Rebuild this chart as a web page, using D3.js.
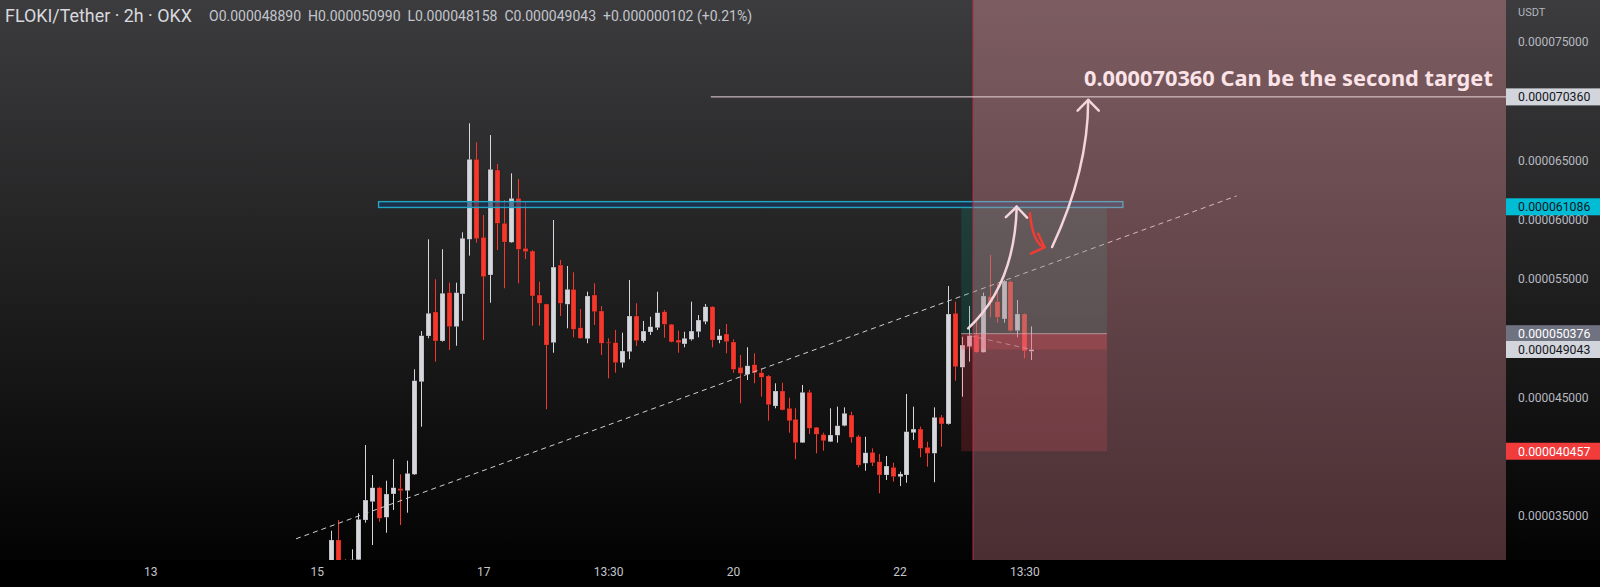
<!DOCTYPE html>
<html><head><meta charset="utf-8">
<script src="https://cdn.jsdelivr.net/npm/d3@7"></script>
<style>html,body{margin:0;padding:0;background:#000;overflow:hidden}</style>
</head><body><svg id="c" width="1600" height="587"></svg>
<script>
// ---- DATA (prices in units of 1e-9 USDT; candle index k = 2h bars) ----
const openP  = [31000,32970,31100,30900,31300,34650,36200,37380,34880,36850,37300,37130,38510,46320,50180,52210,49760,53840,50970,53730,58340,65090,58510,55330,64190,59690,58090,61800,57580,57350,53640,52880,49620,56170,52860,54120,50880,49950,53640,52290,49650,49620,47930,48860,51870,49760,50520,50880,52230,51170,49840,49510,49900,50540,51390,52650,49840,50350,49680,47540,46950,47760,47080,46810,44270,45540,44080,43150,41180,45430,42480,41860,41260,41800,42610,43510,41700,39440,40360,39570,38450,39100,38310,38450,42020,42330,40790,40280,43320,42760,52100,47540,49280,50270,48810,53500,53080,51620,54770,50630,52040,48890];
const highP  = [33750,34650,31350,32180,35220,40980,38450,37460,37970,39780,38510,39660,47370,50600,58340,54970,57500,54680,54680,58930,68130,66530,60390,67140,64700,61660,63910,63430,61510,57440,54760,52900,59970,56600,56090,55560,52460,53920,54630,52710,49990,50690,50460,54910,52940,51450,51810,53920,52380,51200,50630,50540,53080,51950,52880,52700,50750,51190,49900,48580,49230,48720,47460,46890,46190,46240,44970,44080,46050,45630,42500,42020,44080,44220,44160,43790,41830,41680,40700,40220,40060,39490,38730,45290,44220,42530,41260,44160,43510,54400,53080,50120,52710,51390,53840,57020,54630,54910,54850,53220,52100,50990];
const lowP   = [30500,30700,30600,30500,31000,34430,32540,34510,33580,35500,34230,35270,38450,42530,49990,48010,49700,49000,49360,51470,56960,58060,49840,52990,57440,54210,58050,54630,56680,51050,51050,44000,48770,51870,50830,50070,49950,49570,51110,48580,46610,47080,47510,48220,49340,49620,50270,50690,50040,49640,48770,49230,49790,50070,51170,49230,49570,48720,47080,44500,46470,46190,45060,43030,44080,43900,42020,39780,41150,41910,40280,40500,41230,41180,42560,41180,39100,38810,39210,36910,38030,37890,37520,37800,41410,39950,39150,37840,40840,42700,46410,45060,48010,48780,48780,51760,51300,51300,50540,50070,48300,48158];
const closeP = [32970,31100,30900,31300,34710,36340,37380,34800,36850,37380,37130,38590,46410,50210,52100,49760,53790,50970,53840,58430,65090,58390,55190,64250,59690,58110,61800,57500,57300,53560,52940,49420,56000,52940,54120,50750,49990,53560,52230,49570,49570,47930,48920,51870,49790,50600,50970,52150,51170,49680,49620,49990,50600,51530,52650,49840,50210,49700,47370,47030,47670,47080,46700,44380,45540,43940,43030,41180,45430,42390,41890,41340,41830,42610,43660,41630,39290,40330,39480,38450,39210,38310,38540,42110,42330,40700,40280,43320,42760,52040,47590,49420,50210,48810,53560,53030,51760,54820,50630,52040,48920,49043];

const xTickIndex  = [-26, -2, 22, 40, 58, 82, 100];
const xTickLabels = ["13", "15", "17", "13:30", "20", "22", "13:30"];
const yTickValues = [35000, 40000, 45000, 50000, 55000, 60000, 65000, 70000, 75000];

const markValues = [70360, 61086, 50376, 49043, 40457];   // price-axis labels
const markKinds  = ["target2", "target", "entry", "last", "stop"];

const resistanceZone  = [61030, 61520];   // price range
const resistanceSpan  = [6.9, 114.2];     // bar index range
const trendLine       = [[-5, 33067], [130.6, 62004]];
const secondTarget    = 70360;
const secondTargetFrom = 54.8;
const longPos  = {from: 90.9, to: 111.9, target: 61086, entry: 50376, stop: 40457, current: 49043};
const entryDash = [[92.2, 50200], [101, 49043]];
const highlightFrom = 92.6;               // shaded period start (bar index)
const arrowUp1 = [[91.9, 50830], [98.6, 54485], [98.9, 61086]];
const arrowDown = [[100.8, 60536], [101.2, 58030], [102.9, 57666]];
const arrowUp2 = [[104.0, 57692], [109.2, 64190], [109.2, 70100]];

const titleText = "FLOKI/Tether · 2h · OKX";
const ohlcText = "O0.000048890  H0.000050990  L0.000048158  C0.000049043  +0.000000102 (+0.21%)";
const noteText = "0.000070360 Can be the second target";

// ---- LAYOUT ----
const W = 1600, H = 587, plotR = 1506, plotB = 560;
const svg = d3.select("#c");
const x = d3.scaleLinear().domain([0, 101]).range([330.7, 1031.3]);
const y = d3.scaleLinear().domain([35000, 75000]).range([515.9, 41.9]);
const fmt = v => (v * 1e-9).toFixed(9);

const defs = svg.append("defs");
const bg = defs.append("linearGradient").attr("id","bg").attr("gradientUnits","userSpaceOnUse")
  .attr("x1",0).attr("y1",0).attr("x2",0).attr("y2",plotB);
bg.append("stop").attr("offset",0).attr("stop-color","#3c3c3e");
bg.append("stop").attr("offset",1).attr("stop-color","#030303");
const pk = defs.append("linearGradient").attr("id","pk").attr("gradientUnits","userSpaceOnUse")
  .attr("x1",0).attr("y1",0).attr("x2",0).attr("y2",plotB);
pk.append("stop").attr("offset",0).attr("stop-color","rgb(238,150,160)").attr("stop-opacity",0.36);
pk.append("stop").attr("offset",1).attr("stop-color","rgb(205,126,138)").attr("stop-opacity",0.35);
defs.append("clipPath").attr("id","clip").append("rect").attr("x",0).attr("y",0).attr("width",plotR).attr("height",plotB);

svg.append("rect").attr("width",W).attr("height",H).attr("fill","#000");
svg.append("rect").attr("width",W).attr("height",plotB).attr("fill","url(#bg)");

const plot = svg.append("g").attr("clip-path","url(#clip)");

// candles
const idx = d3.range(openP.length);
const up = i => closeP[i] >= openP[i];
const upC = "#d6d7dd", dnC = "#f5372c";
plot.append("g").selectAll("line").data(idx).join("line")
  .attr("x1", i => Math.round(x(i)) + 0.5).attr("x2", i => Math.round(x(i)) + 0.5)
  .attr("y1", i => y(highP[i])).attr("y2", i => y(lowP[i]))
  .attr("stroke", i => up(i) ? upC : dnC).attr("stroke-width", 1);
plot.append("g").selectAll("rect").data(idx).join("rect")
  .attr("x", i => Math.round(x(i)) - 2).attr("width", 5)
  .attr("y", i => y(Math.max(openP[i], closeP[i])))
  .attr("height", i => Math.max(1, Math.abs(y(openP[i]) - y(closeP[i]))))
  .attr("fill", i => up(i) ? upC : dnC)
  .attr("stroke", "rgba(0,0,0,0.35)").attr("stroke-width", 0.6);

// resistance zone
plot.append("rect")
  .attr("x", x(resistanceSpan[0])).attr("width", x(resistanceSpan[1]) - x(resistanceSpan[0]))
  .attr("y", y(resistanceZone[1])).attr("height", y(resistanceZone[0]) - y(resistanceZone[1]))
  .attr("fill", "rgba(20,55,100,0.6)").attr("stroke", "#22a6c2").attr("stroke-width", 1.4);

// trend line
plot.append("line")
  .attr("x1", x(trendLine[0][0])).attr("y1", y(trendLine[0][1]))
  .attr("x2", x(trendLine[1][0])).attr("y2", y(trendLine[1][1]))
  .attr("stroke", "#cfcfd2").attr("stroke-width", 1).attr("stroke-dasharray", "5,4");

// long position
const lp = plot.append("g");
const lx0 = x(longPos.from), lx1 = x(longPos.to);
lp.append("rect").attr("x", lx0).attr("width", lx1 - lx0)
  .attr("y", y(longPos.target)).attr("height", y(longPos.entry) - y(longPos.target))
  .attr("fill", "rgba(8,153,129,0.2)");
lp.append("rect").attr("x", lx0).attr("width", lx1 - lx0)
  .attr("y", y(longPos.entry)).attr("height", y(longPos.stop) - y(longPos.entry))
  .attr("fill", "rgba(242,54,69,0.2)");
lp.append("rect").attr("x", lx0).attr("width", lx1 - lx0)
  .attr("y", y(longPos.entry)).attr("height", y(longPos.current) - y(longPos.entry))
  .attr("fill", "rgba(242,54,69,0.22)");
lp.append("line").attr("x1", lx0).attr("x2", lx1)
  .attr("y1", y(longPos.entry)).attr("y2", y(longPos.entry))
  .attr("stroke", "rgba(200,200,205,0.7)").attr("stroke-width", 1);
lp.append("line")
  .attr("x1", x(entryDash[0][0])).attr("y1", y(entryDash[0][1]))
  .attr("x2", x(entryDash[1][0])).attr("y2", y(entryDash[1][1]))
  .attr("stroke", "rgba(200,200,205,0.6)").attr("stroke-width", 1).attr("stroke-dasharray", "5,4");

// highlighted period
plot.append("rect").attr("x", x(highlightFrom)).attr("y", 0)
  .attr("width", plotR - x(highlightFrom)).attr("height", plotB).attr("fill", "url(#pk)");
plot.append("line").attr("x1", x(highlightFrom)).attr("x2", x(highlightFrom))
  .attr("y1", 0).attr("y2", plotB).attr("stroke", "#b3304a").attr("stroke-width", 1);

// second target line
plot.append("line").attr("x1", x(secondTargetFrom)).attr("x2", plotR)
  .attr("y1", y(secondTarget)).attr("y2", y(secondTarget))
  .attr("stroke", "#ead6da").attr("stroke-width", 1);

// arrows
function drawArrow(pts, color, w, head) {
  const p = pts.map(d => [x(d[0]), y(d[1])]);
  plot.append("path")
    .attr("d", `M${p[0][0]},${p[0][1]} Q${p[1][0]},${p[1][1]} ${p[2][0]},${p[2][1]}`)
    .attr("fill", "none").attr("stroke", color).attr("stroke-width", w).attr("stroke-linecap", "round");
  const ang = Math.atan2(p[2][1] - p[1][1], p[2][0] - p[1][0]);
  [Math.PI * 0.75, -Math.PI * 0.75].forEach(a => {
    plot.append("line").attr("x1", p[2][0]).attr("y1", p[2][1])
      .attr("x2", p[2][0] + head * Math.cos(ang + a)).attr("y2", p[2][1] + head * Math.sin(ang + a))
      .attr("stroke", color).attr("stroke-width", w).attr("stroke-linecap", "round");
  });
}
drawArrow(arrowUp1, "#f3d5db", 2.5, 15);
drawArrow(arrowDown, "#f03c34", 2.5, 15);
drawArrow(arrowUp2, "#f3d5db", 2.5, 15);

function fit(sel, target) {
  const l = sel.node().getComputedTextLength();
  sel.attr("font-size", parseFloat(sel.attr("font-size")) * target / l);
}

const note = plot.append("text").attr("x", 1084).attr("y", 86)
  .attr("font-family", "'Noto Sans', 'Open Sans', sans-serif").attr("font-weight", "bold")
  .attr("font-size", 20).attr("fill", "#fbe3e8").text(noteText);
fit(note, 409);

// header
const t1 = svg.append("text").attr("x", 5).attr("y", 22).attr("font-family", "Roboto, sans-serif")
  .attr("font-size", 16).attr("fill", "#d8d9de").text(titleText);
fit(t1, 187);
const t2 = svg.append("text").attr("x", 209).attr("y", 21).attr("font-family", "Roboto, sans-serif")
  .attr("font-size", 13).attr("fill", "#c3c5cc").attr("xml:space", "preserve").style("white-space", "pre").text(ohlcText);
fit(t2, 544);

// x axis
const xAxis = d3.axisBottom(x).tickValues(xTickIndex).tickFormat((d, i) => xTickLabels[i]).tickSize(0);
const gx = svg.append("g").attr("transform", `translate(0,${plotB})`).call(xAxis);
gx.select(".domain").remove();
gx.selectAll("text").attr("fill", "#c4c6cc").attr("font-size", 12).attr("font-family", "Roboto, sans-serif").attr("dy", "1.05em");

// y axis (tick labels hidden where a price marker covers them)
const visibleTicks = yTickValues.filter(v => markValues.every(m => Math.abs(y(v) - y(m)) > 10));
const yAxis = d3.axisRight(y).tickValues(visibleTicks).tickFormat(fmt).tickSize(0);
const gy = svg.append("g").attr("transform", `translate(${plotR},0)`).call(yAxis);
gy.select(".domain").remove();
gy.selectAll("text").attr("fill", "#b7b9c0").attr("font-size", 12).attr("font-family", "Roboto, sans-serif").attr("x", 12);
svg.append("text").attr("x", 1518).attr("y", 16).attr("font-size", 11).attr("font-family", "Roboto, sans-serif")
  .attr("fill", "#b2b5be").text("USDT");

const markStyle = {
  target2: {bg: "#d3d5dc", fg: "#131722"},
  target:  {bg: "#00bcd4", fg: "#131722"},
  entry:   {bg: "#6f7280", fg: "#ffffff"},
  last:    {bg: "#d3d5dc", fg: "#131722"},
  stop:    {bg: "#f23b3b", fg: "#ffffff"}
};
const marks = svg.append("g");
markValues.forEach((v, i) => {
  const s = markStyle[markKinds[i]];
  marks.append("rect").attr("x", plotR).attr("y", y(v) - 8.5).attr("width", W - plotR).attr("height", 17).attr("fill", s.bg);
  marks.append("text").attr("x", 1518).attr("y", y(v) + 4.3).attr("font-size", 12.3)
    .attr("font-family", "Roboto, sans-serif").attr("fill", s.fg).text(fmt(v));
});
</script></body></html>
